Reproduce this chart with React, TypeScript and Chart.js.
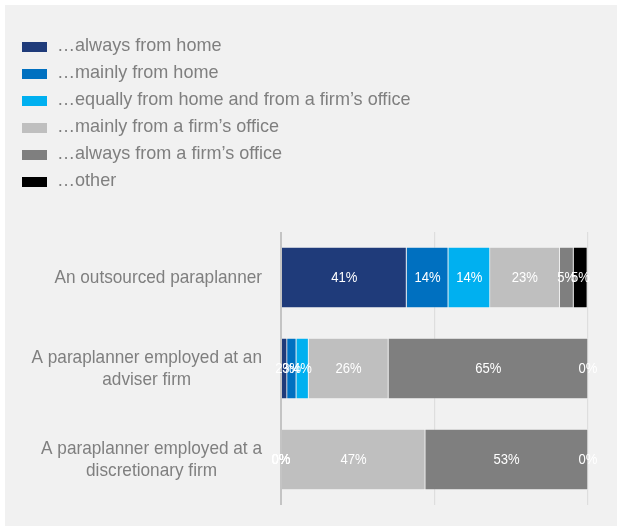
import React, { useEffect, useRef } from "react";
import { Chart, registerables } from "chart.js";

Chart.register(...registerables);

// ---- data ----
const categories: string[][] = [
  ["An outsourced paraplanner"],
  ["A paraplanner employed at an", "adviser firm"],
  ["A paraplanner employed at a", "discretionary firm"],
];
const seriesNames = [
  "…always from home",
  "…mainly from home",
  "…equally from home and from a firm’s office",
  "…mainly from a firm’s office",
  "…always from a firm’s office",
  "…other",
];
const alwaysFromHome = [40.9, 2, 0];
const mainlyFromHome = [13.6, 3, 0];
const equallyHomeOffice = [13.6, 4, 0];
const mainlyFromOffice = [22.7, 26, 47];
const alwaysFromOffice = [4.5, 65, 53];
const otherPlace = [4.5, 0, 0];
const xTicks = [0, 50, 100];

const seriesValues = [
  alwaysFromHome,
  mainlyFromHome,
  equallyHomeOffice,
  mainlyFromOffice,
  alwaysFromOffice,
  otherPlace,
];
const seriesColors = ["#1f3b7a", "#0070c0", "#00b0f0", "#bfbfbf", "#7f7f7f", "#000000"];

const FONT = '"Liberation Sans", Arial, sans-serif';
const TEXT_GRAY = "#7f7f7f";

// draws text slightly condensed horizontally, like the narrow type in the original
function drawText(ctx: CanvasRenderingContext2D, text: string, x: number, y: number, sx: number) {
  ctx.save();
  ctx.translate(x, y);
  ctx.scale(sx, 1);
  ctx.fillText(text, 0, 0);
  ctx.restore();
}

const customLegend = {
  id: "customLegend",
  afterDraw(chart: any) {
    const ctx = chart.ctx;
    ctx.save();
    ctx.font = `19px ${FONT}`;
    ctx.textAlign = "left";
    ctx.textBaseline = "middle";
    chart.data.datasets.forEach((ds: any, i: number) => {
      const cy = 42 + i * 27;
      ctx.fillStyle = ds.backgroundColor;
      ctx.fillRect(17, cy - 5, 25, 10);
      ctx.fillStyle = TEXT_GRAY;
      drawText(ctx, ds.label, 52, cy - 1, 0.95);
    });
    ctx.restore();
  },
};

const categoryLabels = {
  id: "categoryLabels",
  afterDraw(chart: any) {
    const ctx = chart.ctx;
    const yScale = chart.scales.y;
    const labels: string[][] = chart.data.labels;
    const sx = 0.93;
    ctx.save();
    ctx.font = `18.5px ${FONT}`;
    ctx.fillStyle = TEXT_GRAY;
    ctx.textAlign = "center";
    ctx.textBaseline = "middle";
    labels.forEach((lines, i) => {
      const y = yScale.getPixelForValue(i);
      const widest = Math.max(...lines.map((l) => ctx.measureText(l).width)) * sx;
      const cx = chart.chartArea.left - 19 - widest / 2;
      lines.forEach((l, j) => {
        drawText(ctx, l, cx, y + (j - (lines.length - 1) / 2) * 22, sx);
      });
    });
    ctx.restore();
  },
};

const valueLabels = {
  id: "valueLabels",
  afterDatasetsDraw(chart: any) {
    const ctx = chart.ctx;
    ctx.save();
    ctx.font = `15px ${FONT}`;
    ctx.fillStyle = "#ffffff";
    ctx.textAlign = "center";
    ctx.textBaseline = "middle";
    chart.data.datasets.forEach((ds: any, di: number) => {
      const meta = chart.getDatasetMeta(di);
      meta.data.forEach((bar: any, i: number) => {
        const v = ds.data[i];
        const x = (bar.x + bar.base) / 2;
        drawText(ctx, `${Math.round(v)}%`, x, bar.y, 0.87);
      });
    });
    ctx.restore();
  },
};

function StackedBarChart() {
  const canvasRef = useRef<HTMLCanvasElement | null>(null);

  useEffect(() => {
    if (!canvasRef.current) return;
    const chart = new Chart(canvasRef.current, {
      type: "bar",
      data: {
        labels: categories as any,
        datasets: seriesNames.map((name, i) => ({
          label: name,
          data: seriesValues[i],
          backgroundColor: seriesColors[i],
          borderColor: "rgba(255,255,255,0.3)",
          borderWidth: 0.75,
          categoryPercentage: 1,
          barPercentage: 0.67,
        })),
      },
      options: {
        indexAxis: "y",
        responsive: false,
        animation: false,
        devicePixelRatio: 1,
        layout: { padding: { left: 276, right: 29, top: 227, bottom: 21 } },
        plugins: {
          legend: { display: false },
          tooltip: { enabled: false },
          title: { display: false },
        },
        scales: {
          x: {
            stacked: true,
            min: 0,
            max: 100,
            afterBuildTicks: (axis: any) => {
              axis.ticks = xTicks.map((v) => ({ value: v }));
            },
            ticks: { display: false },
            border: { display: false },
            grid: {
              drawTicks: false,
              color: (c: any) => (c.tick && c.tick.value === 0 ? "#c4c4c4" : "#dedede"),
              lineWidth: (c: any) => (c.tick && c.tick.value === 0 ? 2 : 1.2),
            },
          },
          y: {
            stacked: true,
            display: false,
          },
        },
      },
      plugins: [customLegend, categoryLabels, valueLabels],
    });
    return () => chart.destroy();
  }, []);

  return (
    <div style={{ position: "absolute", left: 0, top: 0, width: 617, height: 526, background: "#ffffff" }}>
      <div style={{ position: "absolute", left: 5, top: 5, width: 612, height: 521, background: "#f1f1f1" }}>
        <canvas ref={canvasRef} width={612} height={521} style={{ display: "block" }} />
      </div>
    </div>
  );
}

export default function App() {
  return <StackedBarChart />;
}
